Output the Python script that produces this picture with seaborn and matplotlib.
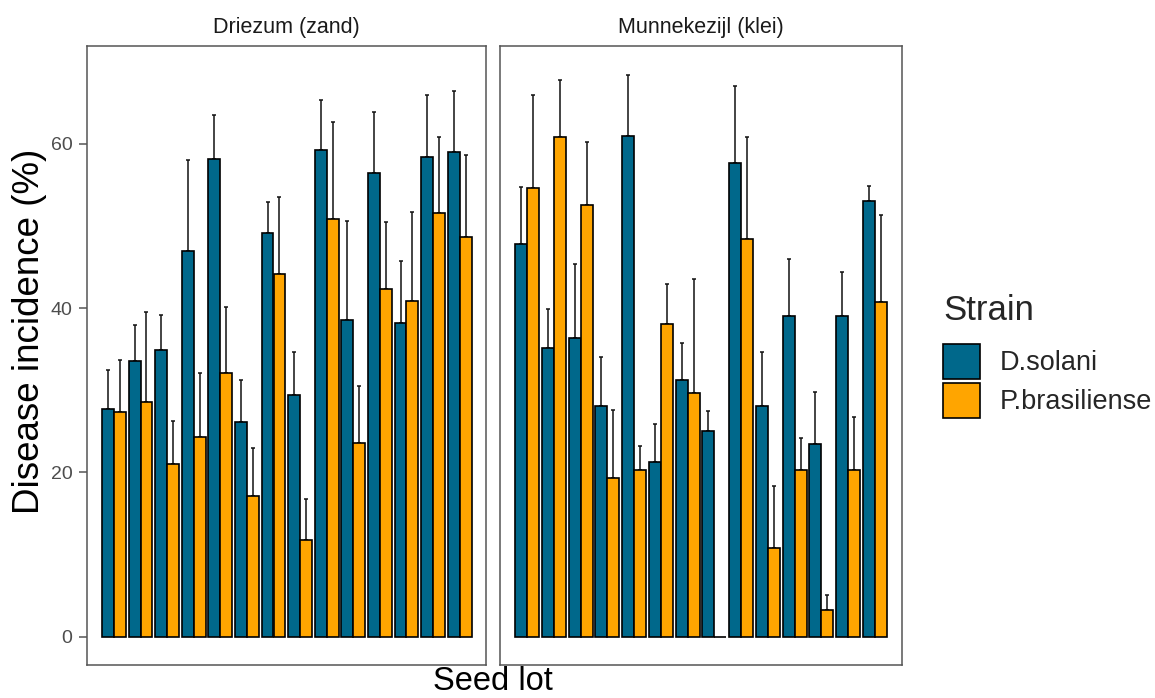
import numpy as np
import pandas as pd
import matplotlib
matplotlib.use("Agg")
import matplotlib.pyplot as plt
import seaborn as sns

# ---------------- data ----------------
sites = ["Driezum (zand)", "Munnekezijl (klei)"]
strains = ["D.solani", "P.brasiliense"]
lots = [str(i) for i in range(1, 15)]

driezum_solani = [27.7, 33.5, 34.9, 46.9, 58.2, 26.1, 49.1, 29.4, 59.2, 38.6, 56.5, 38.2, 58.4, 59.0]
driezum_solani_se = [4.8, 4.4, 4.2, 11.1, 5.3, 5.2, 3.8, 5.2, 6.2, 12.0, 7.4, 7.5, 7.6, 7.4]
driezum_bras = [27.3, 28.6, 21.0, 24.3, 32.1, 17.1, 44.2, 11.7, 50.8, 23.6, 42.3, 40.9, 51.6, 48.7]
driezum_bras_se = [6.4, 10.9, 5.3, 7.8, 8.0, 5.8, 9.3, 5.0, 11.9, 6.9, 8.2, 10.8, 9.3, 9.9]

munne_solani = [47.8, 35.1, 36.3, 28.1, 61.0, 21.3, 31.2, 25.0, 57.7, 28.1, 39.0, 23.4, 39.0, 53.0]
munne_solani_se = [6.9, 4.8, 9.1, 6.0, 7.4, 4.6, 4.5, 2.5, 9.4, 6.6, 7.0, 6.4, 5.4, 1.9]
munne_bras = [54.6, 60.8, 52.6, 19.3, 20.3, 38.1, 29.6, 0.0, 48.4, 10.8, 20.3, 3.2, 20.3, 40.7]
munne_bras_se = [11.4, 7.0, 7.6, 8.3, 2.9, 4.8, 13.9, 0.0, 12.4, 7.5, 3.9, 1.9, 6.4, 10.7]

yticks = [0, 20, 40, 60]

palette = {"D.solani": "#00688B", "P.brasiliense": "#FFA500"}

def make_df(site, sol, sol_se, bra, bra_se):
    return pd.DataFrame({
        "site": site,
        "lot": lots * 2,
        "strain": [strains[0]] * len(lots) + [strains[1]] * len(lots),
        "incidence": sol + bra,
        "se": sol_se + bra_se,
    })

df = pd.concat([
    make_df(sites[0], driezum_solani, driezum_solani_se, driezum_bras, driezum_bras_se),
    make_df(sites[1], munne_solani, munne_solani_se, munne_bras, munne_bras_se),
], ignore_index=True)

# ---------------- figure ----------------
sns.set_theme(style="white")
plt.rcParams["font.family"] = ["Liberation Sans", "DejaVu Sans"]

W, H = 1155, 698
fig = plt.figure(figsize=(W / 100, H / 100), dpi=100)

panel_px = [(87.3, 486.3), (500.3, 901.7)]
top_px, bot_px = 45.7, 665.0

axes = []
for i, site in enumerate(sites):
    x0, x1 = panel_px[i]
    ax = fig.add_axes([x0 / W, 1 - bot_px / H, (x1 - x0) / W, (bot_px - top_px) / H])
    axes.append(ax)
    sub = df[df["site"] == site]
    sns.barplot(data=sub, x="lot", y="incidence", hue="strain", order=lots,
                hue_order=strains, palette=palette, width=0.9, errorbar=None,
                edgecolor="black", linewidth=1.2, saturation=1, ax=ax,
                legend=(i == 1))
    # error bars (upper only), placed on the bars drawn by seaborn
    for cont, strain in zip(ax.containers, strains):
        s = sub[sub["strain"] == strain].set_index("lot").loc[lots]
        xs = [p.get_x() + p.get_width() / 2 for p in cont.patches]
        ys = [p.get_height() for p in cont.patches]
        err = s["se"].to_numpy()
        mask = err > 0
        ax.errorbar(np.array(xs)[mask], np.array(ys)[mask],
                    yerr=[np.zeros(mask.sum()), err[mask]],
                    fmt="none", ecolor="#111111", elinewidth=1.1, capsize=1.2,
                    capthick=1.1, zorder=0.9)
    ax.set_xlim(-1.0, 14.0)
    ax.set_ylim(-3.47, 71.96)
    ax.set_xlabel("")
    ax.set_ylabel("")
    ax.set_xticks([])
    for sp in ax.spines.values():
        sp.set_color("#555555")
        sp.set_linewidth(1.1)
    ax.text(0.5, 1 + (top_px - 27) / (bot_px - top_px), site, transform=ax.transAxes,
            ha="center", va="center", fontsize=15.5, color="#1a1a1a")
    ax.set_yticks(yticks)
    if i == 0:
        ax.tick_params(axis="y", left=True, length=5.8, width=1.1, color="#555555",
                       labelsize=14, labelcolor="#4d4d4d", pad=5)
    else:
        ax.tick_params(axis="y", left=False, labelleft=False)

# legend
handles, labels = axes[1].get_legend_handles_labels()
axes[1].get_legend().remove()
leg = fig.legend(handles, labels, title="Strain", loc="upper left",
                 bbox_to_anchor=(943 / W, 1 - 294 / H), frameon=False,
                 fontsize=19.5, title_fontsize=25, handlelength=1.37, handleheight=1.62,
                 handletextpad=0.72, labelspacing=0.14, borderpad=0, borderaxespad=0,
                 alignment="left")
leg._legend_box.sep = 12

fig.text(30 / W, 1 - 331 / H, "Disease incidence (%)", rotation=90, ha="center",
         va="center", fontsize=26.5, color="black")
fig.text(492.5 / W, 1 - 697.5 / H, "Seed lot", ha="center", va="bottom",
         fontsize=23.5, color="black")

fig.savefig("out.png", dpi=100)
